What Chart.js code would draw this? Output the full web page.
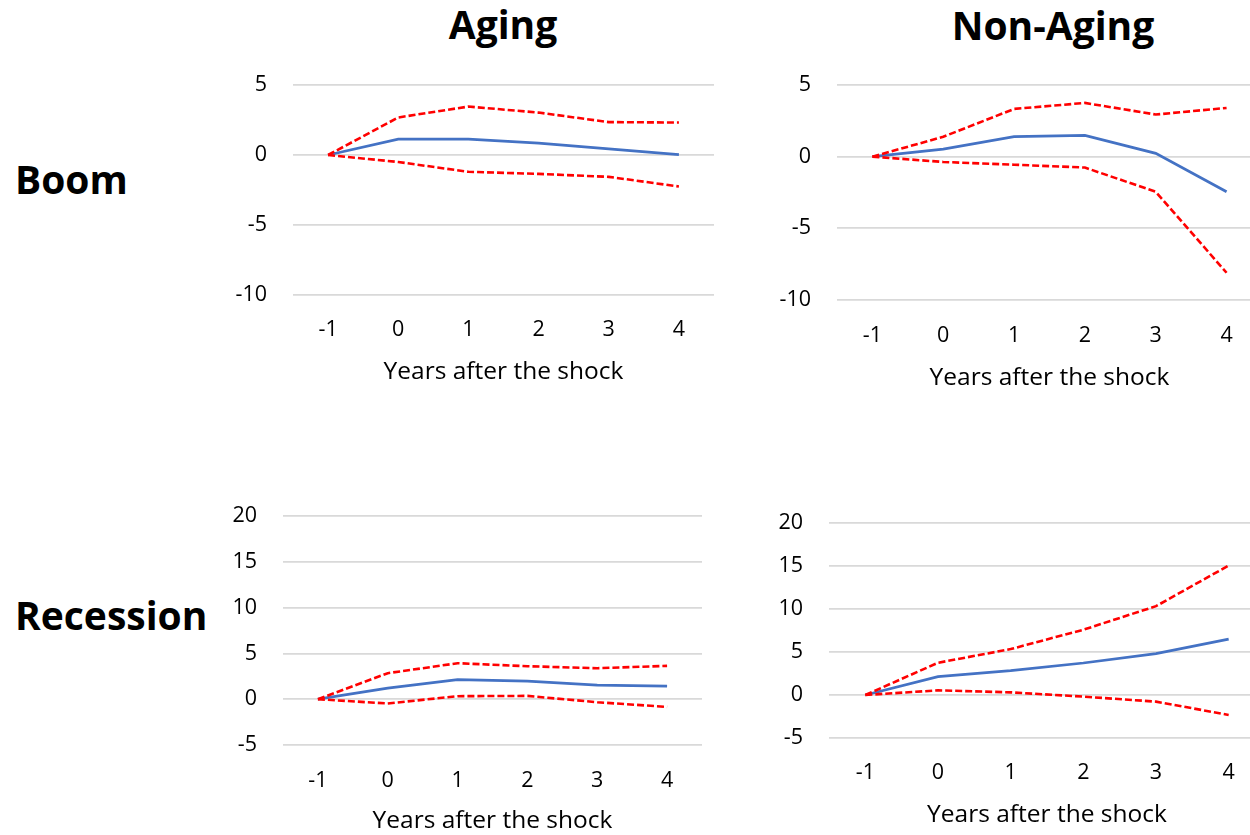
<!DOCTYPE html>
<html>
<head>
<meta charset="utf-8">
<script src="https://cdn.jsdelivr.net/npm/chart.js@4.4.0/dist/chart.umd.min.js"></script>
<style>
  html, body { margin: 0; padding: 0; background: #fff; overflow: hidden; }
  body { width: 1250px; height: 835px; position: relative; font-family: "Open Sans", sans-serif; }
  .label { position: absolute; font-weight: 700; font-size: 39px; line-height: 39px; color: #000; white-space: nowrap; }
  .col { text-align: center; width: 400px; }
  .box { position: absolute; }
</style>
</head>
<body>
<div class="label col" style="left:303px; top:4px;">Aging</div>
<div class="label col" style="left:853px; top:5px;">Non-Aging</div>
<div class="label" style="left:15px; top:159px;">Boom</div>
<div class="label" style="left:15px; top:595px;">Recession</div>

<div class="box" id="box1"><canvas id="c1"></canvas></div>
<div class="box" id="box2"><canvas id="c2"></canvas></div>
<div class="box" id="box3"><canvas id="c3"></canvas></div>
<div class="box" id="box4"><canvas id="c4"></canvas></div>

<script>
const years = ["-1", "0", "1", "2", "3", "4"];

// Boom, aging
const agingBoomMean  = [0, 1.14, 1.14, 0.85, 0.43, 0.02];
const agingBoomUpper = [0, 2.68, 3.46, 3.03, 2.35, 2.32];
const agingBoomLower = [0, -0.50, -1.20, -1.35, -1.56, -2.25];

// Boom, non-aging
const nonAgingBoomMean  = [0, 0.53, 1.39, 1.48, 0.23, -2.45];
const nonAgingBoomUpper = [0, 1.39, 3.33, 3.75, 2.94, 3.40];
const nonAgingBoomLower = [0, -0.37, -0.56, -0.76, -2.45, -8.10];

// Recession, aging
const agingRecMean  = [0, 1.20, 2.14, 1.96, 1.53, 1.42];
const agingRecUpper = [0, 2.84, 3.93, 3.60, 3.38, 3.64];
const agingRecLower = [0, -0.47, 0.33, 0.36, -0.33, -0.84];

// Recession, non-aging
const nonAgingRecMean  = [0, 2.13, 2.83, 3.72, 4.80, 6.50];
const nonAgingRecUpper = [0, 3.75, 5.34, 7.59, 10.33, 15.05];
const nonAgingRecLower = [0, 0.54, 0.31, -0.19, -0.77, -2.32];

// y axis ranges (min, max, step)
const boomAxis = [-10, 5, 5];
const recessionAxis = [-5, 20, 5];

const AXIS_W = 80;
const PAD_TOP = 14;

function makeChart(boxId, canvasId, mean, upper, lower, axis, pos) {
  // pos: plot area left/right/top/bottom + x axis height + tick padding
  const box = document.getElementById(boxId);
  box.style.left = (pos.L - AXIS_W) + "px";
  box.style.top = (pos.T - PAD_TOP) + "px";
  box.style.width = (AXIS_W + pos.R - pos.L) + "px";
  box.style.height = (PAD_TOP + pos.B - pos.T + pos.H) + "px";

  const red = {
    borderColor: "#ff0000",
    borderWidth: 2.6,
    borderDash: [7, 3],
    pointRadius: 0,
    fill: false,
    tension: 0
  };

  new Chart(document.getElementById(canvasId), {
    type: "line",
    data: {
      labels: years,
      datasets: [
        Object.assign({ data: upper }, red),
        Object.assign({ data: lower }, red),
        { data: mean, borderColor: "#4472c4", borderWidth: 2.75, pointRadius: 0, fill: false, tension: 0 }
      ]
    },
    options: {
      responsive: true,
      maintainAspectRatio: false,
      animation: false,
      layout: { padding: { top: PAD_TOP, left: 0, right: 0, bottom: 0 } },
      plugins: { legend: { display: false }, tooltip: { enabled: false } },
      scales: {
        x: {
          offset: true,
          grid: { display: false, drawTicks: false },
          border: { display: false },
          ticks: { color: "#000", font: { family: "Open Sans", size: 21.5 }, padding: pos.tp, maxRotation: 0 },
          title: { display: true, text: "Years after the shock", color: "#000",
                   font: { family: "Open Sans", size: 24.5 }, padding: 0 },
          afterFit: (s) => { s.height = pos.H; }
        },
        y: {
          min: axis[0],
          max: axis[1],
          grid: { color: "#d9d9d9", lineWidth: 1.75, drawTicks: false },
          border: { display: false },
          ticks: { stepSize: axis[2], color: "#000", font: { family: "Open Sans", size: 21.5 }, padding: 26 },
          afterFit: (s) => { s.width = AXIS_W; s.paddingTop = 0; s.paddingBottom = 0; }
        }
      }
    }
  });
}

makeChart("box1", "c1", agingBoomMean, agingBoomUpper, agingBoomLower, boomAxis,
  { L: 293, R: 714, T: 85, B: 295, H: 92, tp: 22 });
makeChart("box2", "c2", nonAgingBoomMean, nonAgingBoomUpper, nonAgingBoomLower, boomAxis,
  { L: 837, R: 1262, T: 85, B: 300, H: 93, tp: 23 });
makeChart("box3", "c3", agingRecMean, agingRecUpper, agingRecLower, recessionAxis,
  { L: 283, R: 702, T: 516, B: 745, H: 91, tp: 23 });
makeChart("box4", "c4", nonAgingRecMean, nonAgingRecUpper, nonAgingRecLower, recessionAxis,
  { L: 829, R: 1265, T: 523, B: 738, H: 92, tp: 22 });
</script>
</body>
</html>
